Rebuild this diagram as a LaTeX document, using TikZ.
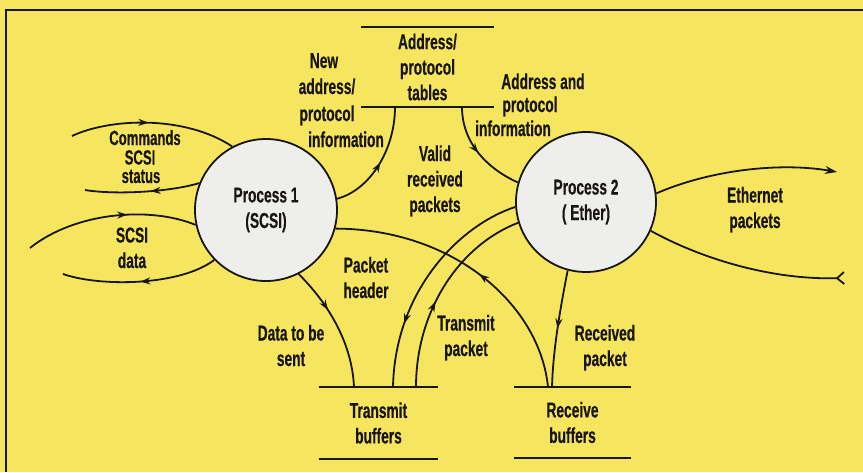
\documentclass[tikz,border=0pt]{standalone}
\usepackage{fontspec}
\setmainfont{Liberation Sans}[FakeStretch=0.64, BoldFeatures={FakeBold=0.4}]
\usetikzlibrary{arrows.meta,decorations.markings}
\definecolor{bgyellow}{RGB}{246,229,94}
\definecolor{procfill}{RGB}{238,238,236}
\definecolor{ink}{RGB}{25,22,18}
\begin{document}
\begin{tikzpicture}[x=1pt,y=-1pt,
  font=\bfseries\fontsize{21.5}{25.5}\selectfont,
  ink, line width=1.8pt,
  proc/.style={circle, draw=ink, fill=procfill, line width=1.8pt, minimum size=142pt, inner sep=0pt, align=center},
  store/.style={inner sep=0pt, align=center},
  storeline/.style={draw=ink, line width=1.8pt},
  lbl/.style={align=center, anchor=base, inner sep=0pt},
  smalllbl/.style={lbl, font=\bfseries\fontsize{20.5}{22}\selectfont},
  flow/.style={draw=ink, line width=1.8pt},
  midarr/.style={postaction={decorate}, decoration={markings, mark=at position #1 with {\arrow{Stealth[length=10pt,width=7pt]}}}},
  midarr/.default=0.5
]
\useasboundingbox (0,0) rectangle (863,472);
\fill[bgyellow] (0,0) rectangle (863,472);
\draw[line width=2.4pt] (6,472) -- (6,10) -- (863,10);

% processes
\node[proc] (p1) at (266,210) {Process 1\\(SCSI)};
\node[proc, minimum size=140pt] (p2) at (586,202) {Process 2\\( Ether)};

% stores
\node[store, minimum width=131pt, minimum height=78pt] (st1) at (427.5,67) {Address/\\protocol\\tables};
\node[store, minimum width=117pt, minimum height=70pt] (st2) at (378.5,423) {Transmit\\buffers};
\node[store, minimum width=115pt, minimum height=69pt] (st3) at (572.5,422.5) {Receive\\buffers};
\foreach \s in {st1,st2,st3}{
  \draw[storeline] (\s.north west) -- (\s.north east);
  \draw[storeline] (\s.south west) -- (\s.south east);
}

% free ends
\coordinate (cmdL) at (72,136);
\coordinate (statL) at (85,190);
\coordinate (dinL) at (30,248);
\coordinate (doutL) at (63,274);
\coordinate (ethO) at (837,172);
\coordinate (ethI) at (845,278);

% connectors
\draw[flow, midarr=0.47] (cmdL) .. controls (110,118) and (185,115) .. (p1.118);
\draw[flow, midarr=0.43] (p1.158) .. controls (170,192) and (115,195) .. (statL);
\draw[flow, midarr=0.6] (dinL) .. controls (75,212) and (150,206) .. (p1.192);
\draw[flow, midarr=0.5] (p1.224) .. controls (180,286) and (100,287) .. (doutL);
\draw[flow, midarr=0.5] (p1.9) .. controls (370,190) and (395,150) .. ([xshift=-32.5pt]st1.south);
\draw[flow, midarr=0.5] ([xshift=34.5pt]st1.south) .. controls (462,145) and (490,170) .. (p2.164);
\draw[flow, midarr=0.47] ([xshift=-24.5pt]st3.north) .. controls (540,305) and (454,229) .. (p1.345);
\draw[flow, midarr=0.72] (p2.184) .. controls (460,225) and (395,290) .. ([xshift=14.5pt]st2.north);
\draw[flow, midarr=0.43] ([xshift=37.5pt]st2.north) .. controls (416,310) and (460,245) .. (p2.197);
\draw[flow, midarr=0.36] (p1.297) .. controls (325,300) and (352,340) .. ([xshift=-24.5pt]st2.north);
\draw[flow, midarr=0.5] (p2.255) .. controls (560,310) and (553,350) .. ([xshift=-20.5pt]st3.north);
\draw[flow, -{Stealth[length=12pt,width=8pt]}] (p2.7) .. controls (710,170) and (780,162) .. (ethO);
\draw[flow, -{Straight Barb[reversed,length=7pt,width=12pt]}] (p2.336) .. controls (700,258) and (770,280) .. (ethI);

% labels (base = baseline of the last line)
\node[smalllbl] (lcmd1) at (145,145) {Commands};
\node[smalllbl] (lcmd2) at (140,164.5) {SCSI};
\node[smalllbl] (lcmd3) at (141,183) {status};
\node[lbl] (lsd) at (132,268) {SCSI\\data};
\node[lbl] (lnew1) at (324,68) {New};
\node[lbl] (lnew2) at (327,94) {address/};
\node[lbl] (lnew3) at (327,121) {protocol};
\node[lbl] (lnew4) at (346,147) {information};
\node[lbl] (lai1) at (543,89) {Address and};
\node[lbl] (lai2) at (530,112) {protocol};
\node[lbl] (lai3) at (513,136) {information};
\node[lbl] (lvr) at (435,212) {Valid\\received\\packets};
\node[lbl] (lph) at (366,298) {Packet\\header};
\node[lbl] (lds) at (291,366) {Data to be\\sent};
\node[lbl] (ltp) at (466,356) {Transmit\\packet};
\node[lbl] (lrp) at (605,366) {Received\\packet};
\node[lbl] (leth) at (755,228) {Ethernet\\packets};
\end{tikzpicture}
\end{document}
